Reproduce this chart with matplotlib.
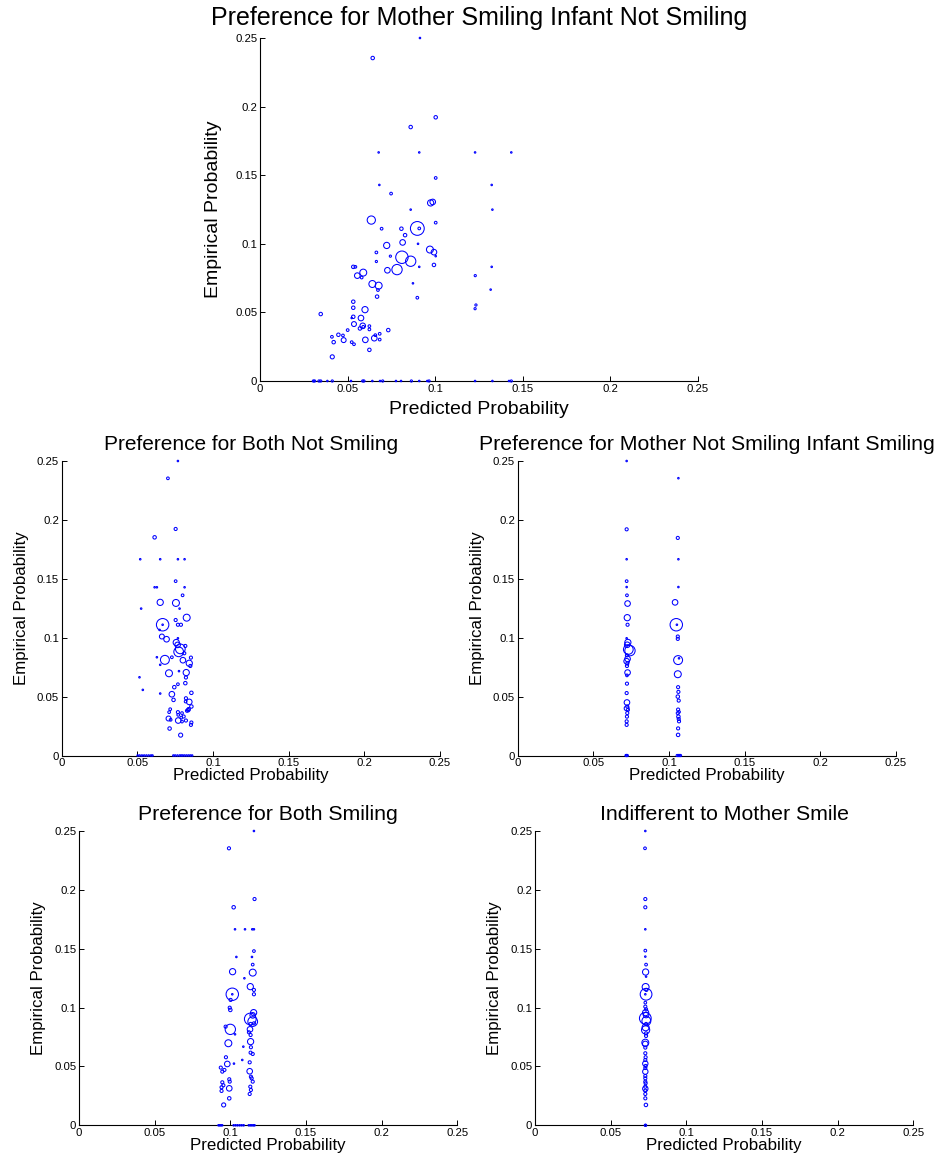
import matplotlib
matplotlib.use("Agg")
import matplotlib.pyplot as plt

plt.rcParams['font.family'] = ['Liberation Sans', 'DejaVu Sans']

# Each cell: predicted probability (x), empirical probability (y), number of observations (n)

# Preference for Mother Smiling Infant Not Smiling
msin_pred = [0.0914, 0.0644, 0.1004, 0.0861, 0.0678, 0.0910, 0.1229, 0.1436, 0.1004, 0.0682,
             0.1324, 0.0749, 0.0975, 0.0987, 0.0861, 0.1328, 0.0636, 0.1004, 0.0695, 0.0899,
             0.0910, 0.0808, 0.0829, 0.0815, 0.0903, 0.0724, 0.0665, 0.0971, 0.0994, 0.1004,
             0.0745, 0.0811, 0.0861, 0.0665, 0.0994, 0.0533, 0.0545, 0.0910, 0.0590, 0.1324,
             0.0783, 0.0728, 0.0556, 0.0581, 0.1230, 0.0642, 0.0678, 0.0674, 0.1318, 0.0669,
             0.0874, 0.0899, 0.0533, 0.0600, 0.1234, 0.1229, 0.0347, 0.0533, 0.0533, 0.0524,
             0.0577, 0.0537, 0.0587, 0.0590, 0.0571, 0.0625, 0.0625, 0.0501, 0.0733, 0.0411,
             0.0448, 0.0474, 0.0684, 0.0659, 0.0653, 0.0684, 0.0478, 0.0421, 0.0524, 0.0537,
             0.0602, 0.0625, 0.0413,
             0.0305, 0.0312, 0.0337, 0.0347, 0.0385, 0.0413, 0.0520, 0.0587, 0.0594, 0.0642,
             0.0686, 0.0701, 0.0777, 0.0806, 0.0865, 0.0910, 0.0956, 0.0966, 0.1229, 0.1328,
             0.1423, 0.1436]
msin_emp = [0.2500, 0.2354, 0.1922, 0.1851, 0.1666, 0.1666, 0.1666, 0.1666, 0.1480, 0.1429,
            0.1429, 0.1366, 0.1298, 0.1305, 0.1249, 0.1249, 0.1173, 0.1154, 0.1110, 0.1112,
            0.1112, 0.1110, 0.1063, 0.1010, 0.1000, 0.0988, 0.0937, 0.0958, 0.0939, 0.0910,
            0.0910, 0.0902, 0.0873, 0.0871, 0.0846, 0.0832, 0.0832, 0.0832, 0.0790, 0.0832,
            0.0812, 0.0807, 0.0768, 0.0754, 0.0768, 0.0707, 0.0695, 0.0663, 0.0666, 0.0615,
            0.0712, 0.0607, 0.0578, 0.0520, 0.0554, 0.0527, 0.0488, 0.0534, 0.0468, 0.0459,
            0.0459, 0.0415, 0.0402, 0.0395, 0.0383, 0.0400, 0.0376, 0.0371, 0.0371, 0.0322,
            0.0337, 0.0332, 0.0344, 0.0334, 0.0312, 0.0302, 0.0298, 0.0283, 0.0283, 0.0268,
            0.0300, 0.0227, 0.0176,
            0, 0, 0, 0, 0, 0, 0, 0, 0, 0, 0, 0, 0, 0, 0, 0, 0, 0, 0, 0, 0, 0]
msin_n = [1, 5, 5, 5, 1, 1, 1, 1, 3, 1,
          1, 3, 16, 13, 1, 1, 28, 3, 3, 79,
          3, 5, 5, 13, 1, 16, 3, 20, 13, 1,
          2, 64, 44, 2, 5, 5, 3, 1, 20, 1,
          44, 13, 13, 3, 2, 20, 20, 3, 1, 5,
          1, 3, 5, 16, 2, 2, 5, 5, 5, 1,
          13, 10, 13, 3, 5, 3, 3, 3, 5, 3,
          5, 3, 3, 3, 13, 3, 10, 5, 3, 3,
          13, 5, 7,
          2, 2, 2, 2, 1, 2, 1, 2, 2, 1, 1, 2, 1, 1, 2, 1, 1, 2, 1, 1, 1, 2]

# Preference for Both Not Smiling
bns_pred = [0.0768, 0.0702, 0.0753, 0.0614, 0.0519, 0.0651, 0.0768, 0.0812, 0.0753, 0.0614,
            0.0629, 0.0812, 0.0799, 0.0651, 0.0755, 0.0525, 0.0779, 0.0826, 0.0753, 0.0667,
            0.0667, 0.0768, 0.0788, 0.0647, 0.0662, 0.0693, 0.0768, 0.0757, 0.0766, 0.0817,
            0.0784, 0.0773, 0.0810, 0.0629, 0.0728, 0.0854, 0.0682, 0.0801, 0.0843, 0.0850,
            0.0651, 0.0709, 0.0823, 0.0775, 0.0821, 0.0514, 0.0768, 0.0817, 0.0744, 0.0536,
            0.0651, 0.0857, 0.0728, 0.0739, 0.0821, 0.0843, 0.0819, 0.0857, 0.0839, 0.0836,
            0.0717, 0.0710, 0.0768, 0.0795, 0.0828, 0.0770, 0.0806, 0.0790, 0.0706, 0.0770,
            0.0720, 0.0821, 0.0795, 0.0857, 0.0854, 0.0713, 0.0786,
            0.0502, 0.0515, 0.0530, 0.0545, 0.0560, 0.0575, 0.0590, 0.0600, 0.0738, 0.0750,
            0.0765, 0.0780, 0.0790, 0.0800, 0.0812, 0.0825, 0.0838, 0.0850, 0.0862]
bns_emp = [0.2500, 0.2353, 0.1923, 0.1852, 0.1666, 0.1666, 0.1666, 0.1666, 0.1480, 0.1428,
           0.1428, 0.1428, 0.1360, 0.1300, 0.1295, 0.1247, 0.1247, 0.1170, 0.1150, 0.1110,
           0.1110, 0.1110, 0.1110, 0.1066, 0.1010, 0.0987, 0.0995, 0.0959, 0.0939, 0.0930,
           0.0905, 0.0880, 0.0868, 0.0834, 0.0834, 0.0831, 0.0812, 0.0809, 0.0783, 0.0760,
           0.0770, 0.0698, 0.0704, 0.0716, 0.0662, 0.0664, 0.0605, 0.0614, 0.0580, 0.0557,
           0.0526, 0.0532, 0.0520, 0.0472, 0.0486, 0.0455, 0.0458, 0.0416, 0.0393, 0.0385,
           0.0393, 0.0368, 0.0368, 0.0360, 0.0380, 0.0345, 0.0331, 0.0322, 0.0314, 0.0297,
           0.0303, 0.0297, 0.0288, 0.0280, 0.0260, 0.0229, 0.0173,
           0, 0, 0, 0, 0, 0, 0, 0, 0, 0, 0, 0, 0, 0, 0, 0, 0, 0, 0]
bns_n = [1, 3, 4, 5, 1, 1, 1, 1, 3, 1,
         1, 1, 3, 16, 20, 1, 1, 20, 4, 64,
         1, 4, 4, 1, 10, 13, 1, 16, 13, 4,
         39, 39, 4, 1, 3, 4, 33, 13, 16, 4,
         1, 20, 16, 1, 4, 1, 3, 5, 5, 1,
         1, 5, 13, 5, 4, 13, 3, 5, 5, 5,
         3, 3, 4, 3, 4, 3, 4, 3, 10, 13,
         3, 4, 3, 4, 4, 5, 7,
         1, 1, 1, 1, 1, 1, 1, 1, 1, 1, 1, 1, 1, 1, 1, 1, 1, 1, 1]

# Preference for Mother Not Smiling Infant Smiling
mnis_pred = [0.0720, 0.0720, 0.0720, 0.0720, 0.0720, 0.0722, 0.0726, 0.0724, 0.0726, 0.0720,
             0.0728, 0.0724, 0.0731, 0.0742, 0.0722, 0.0726, 0.0720, 0.0724, 0.0722, 0.0726,
             0.0722, 0.0722, 0.0720, 0.0722, 0.0724, 0.0720, 0.0728, 0.0724, 0.0722, 0.0720,
             0.0720,
             0.1062, 0.1058, 0.1062, 0.1062, 0.1040, 0.1048, 0.1052, 0.1058, 0.1058, 0.1060,
             0.1066, 0.1058, 0.1060, 0.1062, 0.1058, 0.1064, 0.1060, 0.1066, 0.1058, 0.1062,
             0.1064, 0.1066, 0.1060, 0.1060,
             0.0716, 0.0720, 0.0724, 0.1054, 0.1062, 0.1070, 0.1076]
mnis_emp = [0.2500, 0.1920, 0.1666, 0.1480, 0.1430, 0.1360, 0.1290, 0.1170, 0.1110, 0.0995,
            0.0960, 0.0940, 0.0900, 0.0890, 0.0850, 0.0820, 0.0800, 0.0780, 0.0760, 0.0704,
            0.0680, 0.0610, 0.0530, 0.0450, 0.0416, 0.0400, 0.0387, 0.0360, 0.0330, 0.0290,
            0.0260,
            0.2354, 0.1847, 0.1666, 0.1430, 0.1300, 0.1110, 0.1110, 0.1010, 0.0990, 0.0810,
            0.0825, 0.0690, 0.0580, 0.0540, 0.0500, 0.0466, 0.0390, 0.0370, 0.0360, 0.0330,
            0.0310, 0.0290, 0.0230, 0.0175,
            0, 0, 0, 0, 0, 0, 0]
mnis_n = [1, 4, 1, 3, 1, 3, 13, 16, 4, 1,
          16, 13, 39, 44, 4, 13, 13, 4, 4, 13,
          3, 4, 4, 13, 4, 10, 4, 4, 4, 4,
          4,
          1, 4, 1, 1, 13, 64, 1, 4, 4, 33,
          1, 20, 4, 4, 5, 4, 4, 3, 4, 5,
          4, 4, 4, 5,
          2, 2, 2, 2, 2, 2, 2]

# Preference for Both Smiling
bs_pred = [0.1156, 0.0991, 0.1160, 0.1022, 0.1031, 0.1097, 0.1145, 0.1156, 0.1156, 0.1040,
           0.1143, 0.1148, 0.1015, 0.1148, 0.1093, 0.1132, 0.1156, 0.1013, 0.1013, 0.1156,
           0.1002, 0.0996, 0.1000, 0.1154, 0.1148, 0.1132, 0.1148, 0.1134, 0.1156, 0.0969,
           0.1000, 0.1031, 0.1130, 0.1123, 0.1134, 0.0987, 0.1134, 0.1086, 0.1136, 0.1134,
           0.1148, 0.0971, 0.1079, 0.1024, 0.0980, 0.1128, 0.0937, 0.0961, 0.0947, 0.1128,
           0.1136, 0.0993, 0.0996, 0.1141, 0.1148, 0.0947, 0.0954, 0.0942, 0.0993, 0.0942,
           0.1132, 0.1136, 0.1128, 0.0993, 0.0956,
           0.0922, 0.0930, 0.0938, 0.0946, 0.1022, 0.1035, 0.1048, 0.1062, 0.1075, 0.1088,
           0.1122, 0.1132, 0.1142, 0.1152, 0.1160]
bs_emp = [0.2500, 0.2353, 0.1922, 0.1852, 0.1665, 0.1665, 0.1665, 0.1665, 0.1480, 0.1430,
          0.1430, 0.1365, 0.1305, 0.1297, 0.1249, 0.1178, 0.1150, 0.1113, 0.1113, 0.1113,
          0.1065, 0.0999, 0.0980, 0.0957, 0.0934, 0.0903, 0.0881, 0.0861, 0.0866, 0.0838,
          0.0815, 0.0773, 0.0815, 0.0790, 0.0767, 0.0697, 0.0711, 0.0668, 0.0663, 0.0617,
          0.0606, 0.0578, 0.0555, 0.0524, 0.0521, 0.0535, 0.0490, 0.0470, 0.0456, 0.0459,
          0.0413, 0.0391, 0.0371, 0.0399, 0.0371, 0.0365, 0.0340, 0.0323, 0.0314, 0.0292,
          0.0328, 0.0300, 0.0266, 0.0229, 0.0173,
          0, 0, 0, 0, 0, 0, 0, 0, 0, 0, 0, 0, 0, 0, 0]
bs_n = [1, 4, 4, 5, 1, 1, 1, 1, 3, 1,
        1, 3, 16, 20, 1, 16, 4, 64, 1, 4,
        4, 4, 5, 16, 13, 57, 39, 4, 4, 4,
        44, 1, 13, 4, 4, 20, 16, 1, 4, 4,
        4, 4, 1, 1, 13, 4, 4, 4, 4, 13,
        4, 4, 4, 4, 4, 4, 4, 4, 13, 4,
        4, 4, 4, 5, 7,
        1, 1, 1, 1, 1, 1, 1, 1, 1, 1, 1, 1, 1, 1, 1]

# Indifferent to Mother Smile
ind_pred = [0.0729, 0.0727, 0.0729, 0.0729, 0.0729, 0.0729, 0.0729, 0.0734, 0.0731, 0.0734,
            0.0731, 0.0736, 0.0734, 0.0729, 0.0729, 0.0729, 0.0734, 0.0731, 0.0734, 0.0729,
            0.0736, 0.0734, 0.0731, 0.0731, 0.0734, 0.0734, 0.0729, 0.0729, 0.0729, 0.0729,
            0.0731, 0.0729, 0.0729, 0.0731, 0.0729, 0.0729, 0.0729, 0.0729, 0.0729, 0.0731,
            0.0729, 0.0729, 0.0729, 0.0729,
            0.0729, 0.0733,
            0.0729, 0.0731]
ind_emp = [0.2500, 0.2353, 0.1922, 0.1852, 0.1665, 0.1484, 0.1433, 0.1365, 0.1302, 0.1263,
           0.1175, 0.1150, 0.1113, 0.1113, 0.1042, 0.1008, 0.0985, 0.0957, 0.0937, 0.0909,
           0.0886, 0.0861, 0.0832, 0.0810, 0.0781, 0.0759, 0.0702, 0.0691, 0.0660, 0.0612,
           0.0578, 0.0555, 0.0524, 0.0504, 0.0487, 0.0456, 0.0419, 0.0399, 0.0371, 0.0357,
           0.0328, 0.0311, 0.0294, 0.0266,
           0.0229, 0.0173,
           0, 0]
ind_n = [1, 3, 4, 4, 1, 3, 1, 3, 16, 1,
         20, 4, 57, 1, 3, 4, 4, 16, 13, 57,
         33, 4, 20, 28, 4, 4, 20, 13, 4, 4,
         4, 4, 12, 4, 4, 12, 4, 4, 4, 4,
         4, 12, 4, 4,
         4, 5,
         2, 2]

tick_vals = [0, 0.05, 0.1, 0.15, 0.2, 0.25]
tick_text = ['0', '0.05', '0.1', '0.15', '0.2', '0.25']

W, H = 946, 1164
fig = plt.figure(figsize=(W / 100, H / 100), dpi=100)

# (title, x, y, n, [left, top, width, height] in pixels, title size, label size,
#  title offset, xlabel offset, ylabel offset)
panels = [
    ('Preference for Mother Smiling Infant Not Smiling', msin_pred, msin_emp, msin_n,
     (260, 38, 437.5, 343), 18.0, 14.0, 20, 29, 47),
    ('Preference for Both Not Smiling', bns_pred, bns_emp, bns_n,
     (61.7, 461, 378.3, 294.5), 15.0, 12.2, 16, 20, 40),
    ('Preference for Mother Not Smiling Infant Smiling', mnis_pred, mnis_emp, mnis_n,
     (517.7, 461, 378.3, 294.5), 15.3, 12.2, 16, 20, 40),
    ('Preference for Both Smiling', bs_pred, bs_emp, bs_n,
     (79, 831, 378.3, 294.3), 15.3, 12.2, 16, 20, 40),
    ('Indifferent to Mother Smile', ind_pred, ind_emp, ind_n,
     (535, 831, 378.3, 294.3), 15.3, 12.2, 16, 20, 40),
]

for title, xs, ys, ns, (l, t, w, h), tsize, lsize, toff, xoff, yoff in panels:
    ax = fig.add_axes([l / W, (H - t - h) / H, w / W, h / H])
    ax.scatter(xs, ys, s=[1.25 * v for v in ns], facecolors='none',
               edgecolors='#0000ff', linewidths=0.75, clip_on=False, zorder=3)
    ax.set_xlim(0, 0.25)
    ax.set_ylim(0, 0.25)
    ax.set_xticks(tick_vals)
    ax.set_xticklabels(tick_text)
    ax.set_yticks(tick_vals)
    ax.set_yticklabels(tick_text)
    ax.tick_params(direction='in', length=3.5, width=0.7, labelsize=8.2,
                   colors='black', pad=2)
    for side in ('top', 'right'):
        ax.spines[side].set_visible(False)
    for side in ('left', 'bottom'):
        ax.spines[side].set_linewidth(0.8)
        ax.spines[side].set_color('black')
    ax.text(0.5, 1 + toff / h, title, transform=ax.transAxes, ha='center',
            va='center', fontsize=tsize)
    ax.set_xlabel('Predicted Probability', fontsize=lsize, va='center')
    ax.xaxis.set_label_coords(0.5, -xoff / h)
    ax.set_ylabel('Empirical Probability', fontsize=lsize, va='center')
    ax.yaxis.set_label_coords(-yoff / w, 0.5)

fig.savefig('out.png', dpi=100)
